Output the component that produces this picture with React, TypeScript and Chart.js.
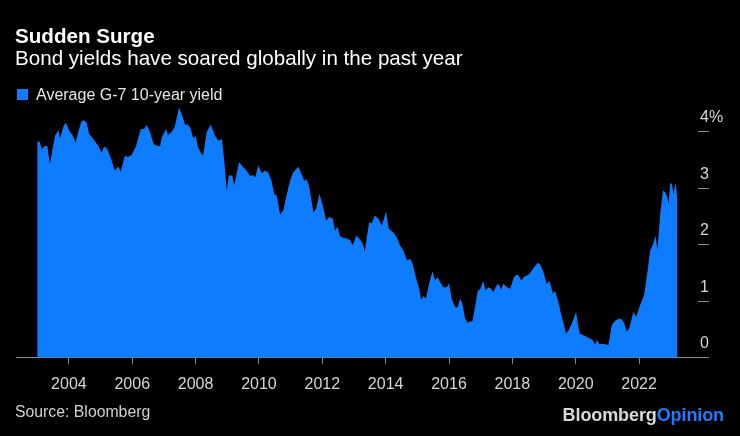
import React, { useEffect, useRef } from "react";
import { Chart, registerables } from "chart.js";

Chart.register(...registerables);

// Decimal-year dates and Average G-7 10-year yield (%)
const yieldDates: number[] = [
  2003.0, 2003.08, 2003.14, 2003.24, 2003.32, 2003.4, 2003.56, 2003.67, 2003.72, 2003.83, 2003.9,
  2004.03, 2004.12, 2004.21, 2004.29, 2004.4, 2004.48, 2004.56, 2004.64, 2004.77, 2004.93,
  2005.03, 2005.11, 2005.21, 2005.35, 2005.45, 2005.56, 2005.63, 2005.77, 2005.86, 2005.98,
  2006.12, 2006.27, 2006.37, 2006.46, 2006.56, 2006.68, 2006.8, 2006.88, 2006.93,
  2007.07, 2007.13, 2007.24, 2007.33, 2007.48, 2007.58, 2007.67, 2007.75, 2007.83, 2007.93,
  2008.0, 2008.08, 2008.19, 2008.24, 2008.35, 2008.48, 2008.61, 2008.72, 2008.83, 2008.91, 2008.98,
  2009.05, 2009.16, 2009.22, 2009.37, 2009.51, 2009.61, 2009.72, 2009.82, 2009.88, 2009.98,
  2010.08, 2010.19, 2010.29, 2010.4, 2010.48, 2010.56, 2010.67, 2010.77, 2010.88, 2010.98,
  2011.08, 2011.24, 2011.35, 2011.43, 2011.51, 2011.59, 2011.72, 2011.8, 2011.91,
  2012.03, 2012.12, 2012.22, 2012.33, 2012.4, 2012.48, 2012.56, 2012.67, 2012.77, 2012.88, 2012.96,
  2013.07, 2013.17, 2013.28, 2013.34, 2013.42, 2013.48, 2013.56, 2013.66, 2013.77, 2013.88,
  2014.01, 2014.1, 2014.24, 2014.37, 2014.45, 2014.56, 2014.67, 2014.77, 2014.84, 2014.98,
  2015.05, 2015.12, 2015.19, 2015.27, 2015.37, 2015.48, 2015.56, 2015.64, 2015.72, 2015.82, 2015.93,
  2016.0, 2016.08, 2016.19, 2016.27, 2016.35, 2016.42, 2016.51, 2016.59, 2016.66, 2016.74, 2016.83, 2016.91, 2016.98,
  2017.08, 2017.16, 2017.24, 2017.33, 2017.4, 2017.48, 2017.56, 2017.64, 2017.72, 2017.83, 2017.93,
  2018.03, 2018.11, 2018.19, 2018.28, 2018.38, 2018.48, 2018.58, 2018.68, 2018.8, 2018.88, 2018.98,
  2019.08, 2019.17, 2019.28, 2019.35, 2019.45, 2019.56, 2019.63, 2019.69, 2019.77, 2019.88,
  2020.01, 2020.08, 2020.13, 2020.24, 2020.35, 2020.45, 2020.54, 2020.61, 2020.68, 2020.74, 2020.85, 2020.93,
  2021.03, 2021.14, 2021.24, 2021.35, 2021.45, 2021.53, 2021.61, 2021.69, 2021.82, 2021.91,
  2022.03, 2022.16, 2022.27, 2022.35, 2022.43, 2022.52, 2022.58, 2022.67, 2022.75, 2022.82, 2022.89, 2022.93, 2022.98,
  2023.04, 2023.08, 2023.16, 2023.21,
];

const yieldValues: number[] = [
  3.83, 3.82, 3.69, 3.75, 3.75, 3.43, 3.93, 4.03, 3.88, 4.1, 4.16,
  4.0, 3.94, 3.8, 3.99, 4.19, 4.2, 4.16, 3.96, 3.87, 3.75,
  3.63, 3.74, 3.7, 3.49, 3.31, 3.39, 3.29, 3.58, 3.55, 3.59,
  3.75, 4.05, 4.05, 4.12, 3.99, 3.78, 3.75, 3.75, 3.9,
  4.05, 3.94, 4.0, 4.07, 4.43, 4.28, 4.12, 4.13, 4.07, 3.88,
  3.93, 3.72, 3.6, 3.59, 3.99, 4.13, 3.93, 3.84, 3.87, 3.46, 2.96,
  3.23, 3.22, 3.05, 3.46, 3.37, 3.31, 3.22, 3.23, 3.19, 3.41,
  3.27, 3.31, 3.28, 3.13, 2.9, 2.87, 2.53, 2.61, 2.9, 3.13,
  3.28, 3.38, 3.25, 3.13, 3.16, 3.02, 2.57, 2.63, 2.9,
  2.66, 2.43, 2.49, 2.46, 2.25, 2.32, 2.15, 2.12, 2.11, 2.08, 1.99,
  2.16, 2.11, 2.02, 1.87, 2.19, 2.4, 2.38, 2.52, 2.46, 2.34,
  2.59, 2.28, 2.22, 2.11, 1.99, 1.9, 1.72, 1.75, 1.68, 1.37,
  1.25, 1.03, 1.09, 1.05, 1.31, 1.53, 1.37, 1.43, 1.34, 1.25, 1.25,
  1.32, 1.05, 0.9, 0.89, 1.05, 0.96, 0.69, 0.62, 0.64, 0.65, 0.93, 1.19, 1.21,
  1.36, 1.19, 1.25, 1.22, 1.16, 1.26, 1.31, 1.21, 1.31, 1.25, 1.22,
  1.4, 1.47, 1.46, 1.37, 1.44, 1.46, 1.52, 1.6, 1.68, 1.65, 1.52,
  1.31, 1.36, 1.14, 1.18, 0.99, 0.72, 0.58, 0.43, 0.48, 0.61,
  0.81, 0.55, 0.43, 0.4, 0.37, 0.34, 0.31, 0.24, 0.32, 0.24, 0.25, 0.24,
  0.22, 0.58, 0.65, 0.69, 0.68, 0.61, 0.46, 0.52, 0.81, 0.72,
  0.93, 1.11, 1.55, 1.9, 1.99, 2.16, 1.91, 2.55, 2.96, 2.93, 2.85, 2.72, 3.08,
  3.09, 2.89, 3.1, 2.78,
];

const xTickYears: number[] = [2004, 2006, 2008, 2010, 2012, 2014, 2016, 2018, 2020, 2022];
const yTickValues: number[] = [0, 1, 2, 3, 4];

const BLUE = "#0d7cff";
const FONT = "'Liberation Sans', Arial, Helvetica, sans-serif";

export default function App() {
  const canvasRef = useRef<HTMLCanvasElement | null>(null);

  useEffect(() => {
    document.body.style.margin = "0";
    document.body.style.background = "#000";
    const canvas = canvasRef.current;
    if (!canvas) return;
    const chart = new Chart(canvas, {
      type: "line",
      data: {
        datasets: [
          {
            label: "Average G-7 10-year yield",
            data: yieldDates.map((d, i) => ({ x: d, y: yieldValues[i] })),
            backgroundColor: BLUE,
            borderColor: BLUE,
            borderWidth: 0,
            pointRadius: 0,
            tension: 0,
            fill: "origin",
          },
        ],
      },
      options: {
        animation: false,
        responsive: false,
        maintainAspectRatio: false,
        layout: { padding: { left: 16, right: 0, top: 103.5, bottom: 31 } },
        plugins: {
          legend: { display: false },
          tooltip: { enabled: false },
          title: { display: false },
        },
        scales: {
          x: {
            type: "linear",
            min: 2002.33,
            max: 2023.86,
            afterBuildTicks: (scale: any) => {
              scale.ticks = xTickYears.map((v) => ({ value: v }));
            },
            ticks: {
              color: "#d6d6d6",
              font: { family: FONT, size: 16 },
              padding: 11,
              maxRotation: 0,
              autoSkip: false,
              callback: (v: any) => String(v),
            },
            grid: {
              display: true,
              drawOnChartArea: false,
              drawTicks: true,
              tickLength: 6,
              color: "#8c8c8c",
            },
            border: { display: true, color: "#8c8c8c", width: 1 },
          },
          y: {
            type: "linear",
            position: "right",
            min: 0,
            max: 4.5,
            afterBuildTicks: (scale: any) => {
              scale.ticks = yTickValues.map((v) => ({ value: v }));
            },
            afterFit: (scale: any) => {
              scale.width = 42;
            },
            ticks: {
              color: "#d6d6d6",
              font: { family: FONT, size: 16 },
              padding: -9,
              labelOffset: -14,
              crossAlign: "near",
              callback: (v: any) => (v === 4 ? "4%" : String(v)),
            },
            grid: {
              display: true,
              drawOnChartArea: false,
              drawTicks: true,
              tickLength: 11,
              color: "#8c8c8c",
            },
            border: { display: false },
          },
        },
      },
    });
    return () => chart.destroy();
  }, []);

  return (
    <div
      style={{
        position: "fixed",
        left: 0,
        top: 0,
        width: 740,
        height: 436,
        background: "#000",
        overflow: "hidden",
        fontFamily: FONT,
      }}
    >
      <canvas ref={canvasRef} width={740} height={436} style={{ position: "absolute", left: 0, top: 0 }} />
      <div
        style={{
          position: "absolute",
          left: 15,
          top: 26,
          fontSize: 20.6,
          lineHeight: "20px",
          fontWeight: 700,
          color: "#fff",
          whiteSpace: "nowrap",
        }}
      >
        Sudden Surge
      </div>
      <div
        style={{
          position: "absolute",
          left: 15,
          top: 48,
          fontSize: 20.6,
          lineHeight: "20px",
          color: "#fff",
          whiteSpace: "nowrap",
        }}
      >
        Bond yields have soared globally in the past year
      </div>
      <div
        style={{
          position: "absolute",
          left: 17,
          top: 88.5,
          width: 11,
          height: 11,
          background: BLUE,
        }}
      />
      <div
        style={{
          position: "absolute",
          left: 36,
          top: 86.5,
          fontSize: 16,
          lineHeight: "16px",
          color: "#e6e6e6",
          whiteSpace: "nowrap",
        }}
      >
        Average G-7 10-year yield
      </div>
      <div
        style={{
          position: "absolute",
          left: 15,
          top: 404,
          fontSize: 15.8,
          lineHeight: "16px",
          color: "#d0d0d0",
          whiteSpace: "nowrap",
        }}
      >
        Source: Bloomberg
      </div>
      <div
        style={{
          position: "absolute",
          right: 16,
          top: 405.5,
          fontSize: 18,
          lineHeight: "18px",
          fontWeight: 700,
          whiteSpace: "nowrap",
          letterSpacing: "-0.1px",
        }}
      >
        <span style={{ color: "#d9d9d9" }}>Bloomberg</span>
        <span style={{ color: "#1f7bff" }}>Opinion</span>
      </div>
    </div>
  );
}
